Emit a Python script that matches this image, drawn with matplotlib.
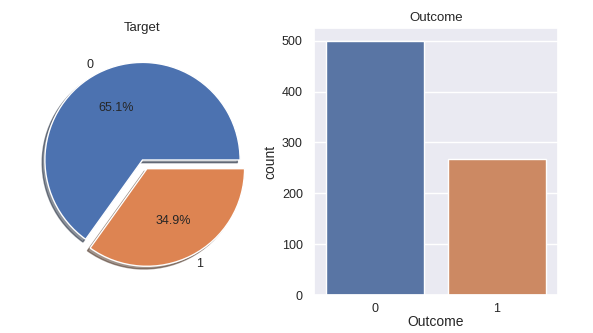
import matplotlib
matplotlib.use('Agg')
import seaborn as sns
from matplotlib import pyplot as plt

# class counts for the Outcome column
outcome_labels = ['0', '1']
outcome_counts = [500, 268]

sns.set_theme(style='darkgrid')
plt.rcParams['font.family'] = ['Liberation Sans', 'DejaVu Sans']

pie_colors = sns.color_palette('deep', 2)
bar_colors = [sns.desaturate(c, 0.75) for c in pie_colors]

fig = plt.figure(figsize=(5.93, 3.33), dpi=100)

# left: share of each class
ax1 = fig.add_axes([20.5 / 593, 51 / 333, 244 / 593, 244 / 333])
ax1.pie(outcome_counts, labels=outcome_labels, explode=[0, 0.1], autopct='%1.1f%%',
        shadow=True, colors=pie_colors, textprops={'fontsize': 9})
ax1.set_title('Target', fontsize=9.5, pad=5)

# right: count per class
ax2 = fig.add_axes([314 / 593, 38 / 333, 244 / 593, 267 / 333])
ax2.bar(outcome_labels, outcome_counts, width=0.8, color=bar_colors)
ax2.set_xlim(-0.5, 1.5)
ax2.set_ylim(0, max(outcome_counts) * 1.05)
ax2.xaxis.grid(False)
ax2.set_xlabel('Outcome', fontsize=10, labelpad=0)
ax2.set_ylabel('count', fontsize=10, labelpad=3)
ax2.set_title('Outcome', fontsize=9.5, pad=5)
ax2.tick_params(labelsize=9, pad=2)
ax2.tick_params(axis='x', pad=0)

fig.savefig('out.png', dpi=100)
